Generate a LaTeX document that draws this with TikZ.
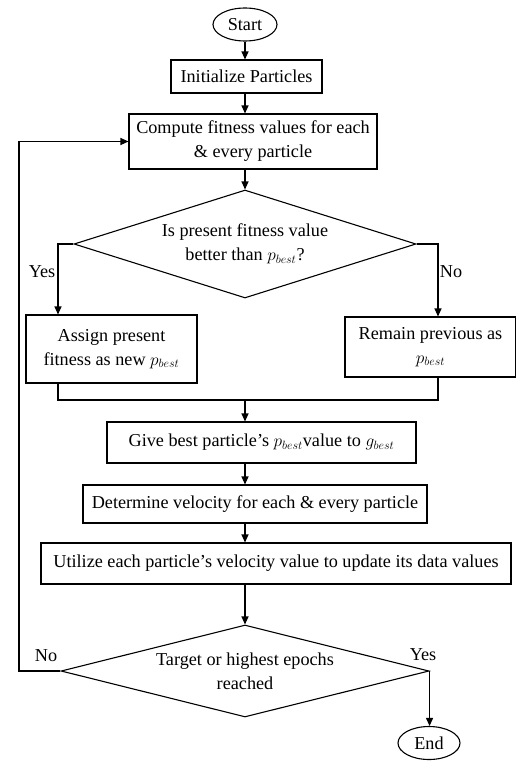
\documentclass[tikz,border=0pt]{standalone}
\usepackage{fontspec}
\setmainfont{Liberation Serif}
\usetikzlibrary{arrows.meta,positioning,shapes.geometric}
\tikzset{
  term/.style ={ellipse, draw, line width=1.1pt, minimum width=64pt, minimum height=33pt, inner sep=0pt},
  box/.style  ={rectangle, draw, line width=1.1pt, align=center, inner sep=2pt},
  dec/.style  ={diamond, draw, line width=1.1pt, align=center, inner sep=0pt},
  arr/.style  ={-{Triangle[length=8pt,width=7pt]}, line width=1.1pt},
  lnk/.style  ={line width=1.1pt},
  lbl/.style  ={inner sep=0pt},
}

\begin{document}
\begin{tikzpicture}[x=1pt, y=-1pt, font=\fontsize{18.2}{24}\selectfont]
  \useasboundingbox (0,0) rectangle (515,763);
  \node[term] (start) at (245,24.5) {Start};
  \node[box, minimum width=151pt, minimum height=33pt] (init) at (246.5,76.5) {Initialize Particles};
  \node[box, minimum width=248pt, minimum height=55pt] (comp) at (253,141.5) {Compute fitness values for each\\\& every particle};
  \node[dec, minimum width=342pt, minimum height=108pt, aspect=3.17] (d1) at (245,244) {Is present fitness value\\better than $p_{best}$?};
  \node[box, minimum width=171pt, minimum height=68pt] (asg) at (111.5,349) {Assign present\\fitness as new $p_{best}$};
  \node[box, minimum width=171pt, minimum height=60pt] (rem) at (430.5,347) {Remain previous as\\$p_{best}$};
  \node[box, minimum width=309pt, minimum height=41pt] (give) at (261.5,442.5) {Give best particle's $p_{best}$value to $g_{best}$};
  \node[box, minimum width=344pt, minimum height=38pt] (vel) at (255,504) {Determine velocity for each \& every particle};
  \node[box, minimum width=470pt, minimum height=41pt] (upd) at (276,563.5) {Utilize each particle's velocity value to update its data values};
  \node[dec, minimum width=368pt, minimum height=92pt, aspect=4] (d2) at (245,671) {Target or highest epochs\\reached};
  \node[term, minimum width=62pt] (fin) at (429,743) {End};

  % branch points
  \coordinate (yesdn) at (58,0);
  \coordinate (nodn) at (438,0);
  \coordinate (mrg) at (245,400);
  \coordinate (back) at (19,0);

  \draw[arr] (start.south) -- (start.south |- init.north);
  \draw[arr] (init.south -| start) -- (comp.north -| start);
  \draw[arr] (comp.south -| start) -- (d1.north);
  \draw[arr] (d1.west) -| (yesdn |- asg.north);
  \draw[arr] (d1.east) -| (nodn |- rem.north);
  \draw[lnk] (yesdn |- asg.south) |- (nodn |- mrg) -- (nodn |- rem.south);
  \draw[arr] (mrg) -- (give.north -| mrg);
  \draw[arr] (give.south -| start) -- (vel.north -| start);
  \draw[arr] (vel.south -| start) -- (upd.north -| start);
  \draw[arr] (upd.south -| start) -- (d2.north);
  \draw[arr] (d2.west) -- (back |- d2.west) -- (back |- comp.west) -- (comp.west);
  \draw[arr] (d2.east) -- (d2.east |- fin.north);

  \node[lbl] (yes1) at (42,272) {Yes};
  \node[lbl] (no1) at (451,272) {No};
  \node[lbl] (no2) at (46,656) {No};
  \node[lbl] (yes2) at (423,655) {Yes};
\end{tikzpicture}
\end{document}
